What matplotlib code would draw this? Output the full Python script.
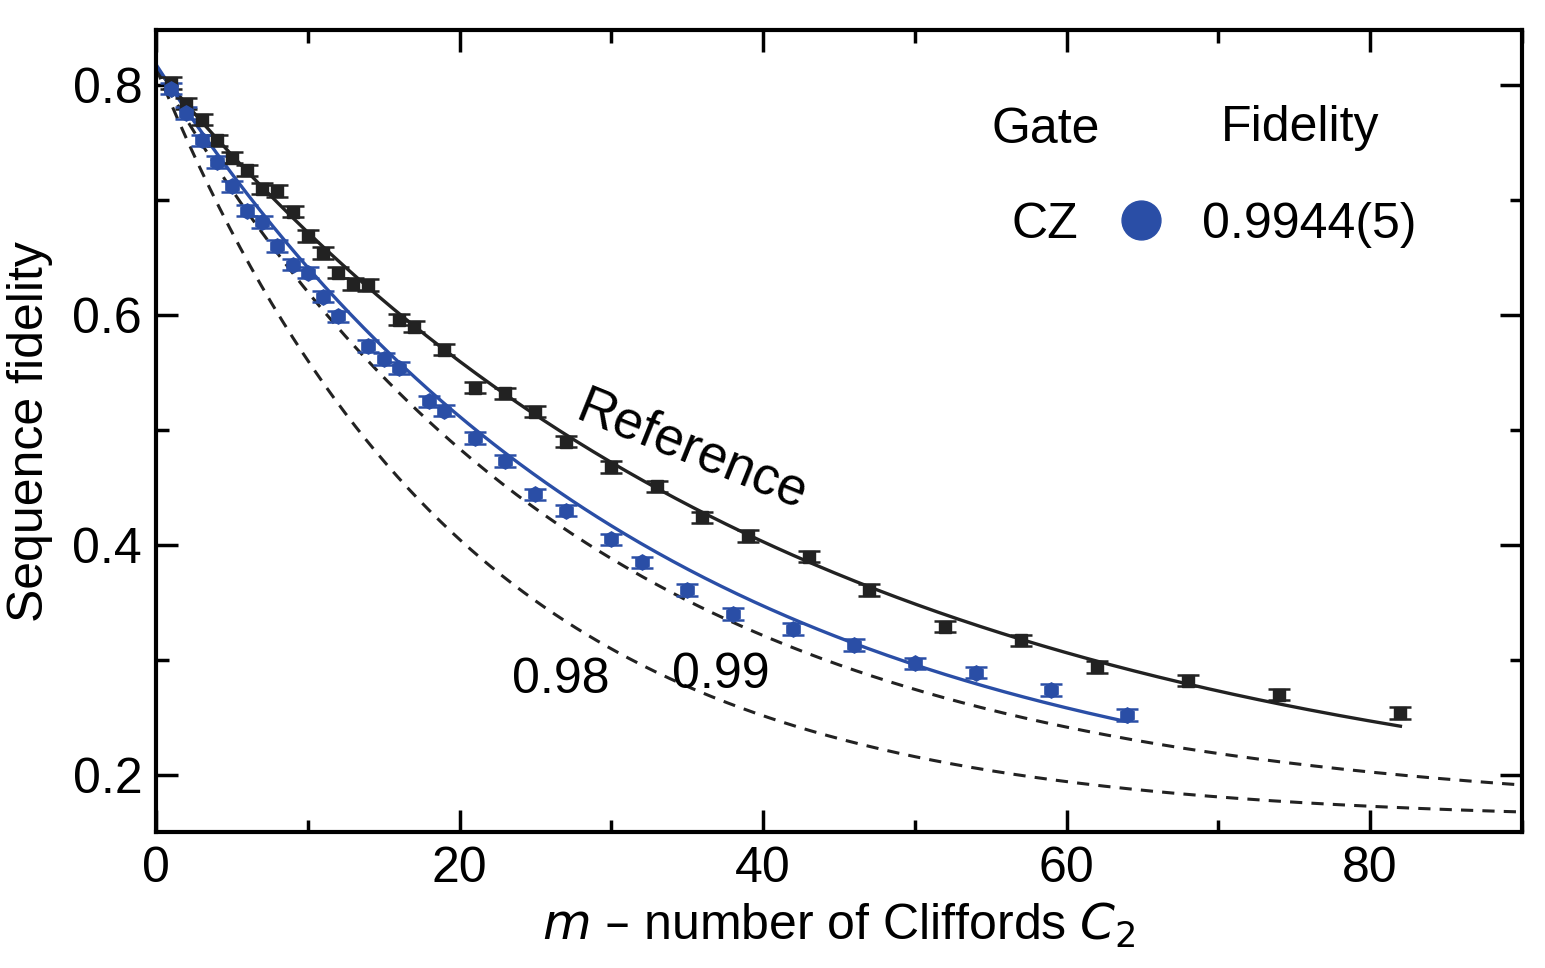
import numpy as np
import matplotlib
matplotlib.use('Agg')
import matplotlib.pyplot as plt

plt.rcParams['font.family'] = ['Liberation Sans', 'DejaVu Sans']

# Reference (black) data
ref_m = [1, 2, 3, 4, 5, 6, 7, 8, 9, 10, 11, 12, 13, 14, 16, 17, 19, 21, 23, 25, 27,
         30, 33, 36, 39, 43, 47, 52, 57, 62, 68, 74, 82]
ref_f = [0.802, 0.784, 0.770, 0.752, 0.737, 0.726, 0.710, 0.708, 0.690, 0.669, 0.654,
         0.637, 0.627, 0.626, 0.596, 0.590, 0.570, 0.537, 0.532, 0.516, 0.490, 0.468,
         0.451, 0.424, 0.408, 0.390, 0.361, 0.329, 0.317, 0.294, 0.282, 0.270, 0.254]
# Interleaved CZ (blue) data
cz_m = [1, 2, 3, 4, 5, 6, 7, 8, 9, 10, 11, 12, 14, 15, 16, 18, 19, 21, 23, 25, 27,
        30, 32, 35, 38, 42, 46, 50, 54, 59, 64]
cz_f = [0.797, 0.776, 0.752, 0.733, 0.712, 0.691, 0.681, 0.660, 0.644, 0.637, 0.616,
        0.599, 0.573, 0.562, 0.554, 0.525, 0.517, 0.493, 0.473, 0.444, 0.430, 0.405,
        0.385, 0.361, 0.340, 0.327, 0.313, 0.297, 0.289, 0.274, 0.252]
err = 0.005

# Fit model A*p^m + B parameters
ref_fit = dict(A=0.663, B=0.152, p=0.9760)
cz_fit = dict(A=0.663, B=0.155, p=0.9695)
dash_099 = dict(A=0.650, B=0.165, p=0.965)
dash_098 = dict(A=0.655, B=0.160, p=0.952)

blue = '#2a4ea6'

fig, ax = plt.subplots(figsize=(15.45, 9.68), dpi=100)
fig.subplots_adjust(left=0.101, right=0.985, top=0.969, bottom=0.14)

def model(prm, m):
    return prm['A'] * prm['p'] ** m + prm['B']

m_full = np.linspace(0, 92, 400)
for prm in (dash_099, dash_098):
    ax.plot(m_full, model(prm, m_full), '--', color='#222222', lw=2.2, dashes=(4, 3))
m_ref = np.linspace(0, 82, 300)
ax.plot(m_ref, model(ref_fit, m_ref), color='#222222', lw=2.4)
m_cz = np.linspace(0, 64, 300)
ax.plot(m_cz, model(cz_fit, m_cz), color=blue, lw=2.4)

ax.errorbar(ref_m, ref_f, yerr=err, fmt='s', color='#222222', ms=8, capsize=8,
            elinewidth=1.8, capthick=1.8)
ax.errorbar(cz_m, cz_f, yerr=err, fmt='h', color=blue, ms=11, capsize=8,
            elinewidth=1.8, capthick=1.8)

ax.set_xlim(0, 90)
ax.set_ylim(0.150, 0.848)
ax.set_xticks([0, 20, 40, 60, 80])
ax.set_xticks([10, 30, 50, 70, 90], minor=True)
ax.set_yticks([0.2, 0.4, 0.6, 0.8])
ax.set_yticks([0.3, 0.5, 0.7], minor=True)
ax.set_yticklabels(['0.2', '0.4', '0.6', '0.8'])
ax.tick_params(which='both', direction='in', top=True, right=True, width=2.5,
               labelsize=36, pad=10)
ax.tick_params(which='major', length=16)
ax.tick_params(which='minor', length=9)
for s in ax.spines.values():
    s.set_linewidth(3)

ax.set_xlabel(r'$m$ – number of Cliffords $C_2$', fontsize=36, labelpad=6)
ax.set_ylabel('Sequence fidelity', fontsize=36, labelpad=14)

ax.text(35.3, 0.482, 'Reference', fontsize=38, rotation=-22, ha='center', va='center')
ax.text(26.7, 0.283, '0.98', fontsize=36, ha='center', va='center')
ax.text(37.2, 0.287, '0.99', fontsize=36, ha='center', va='center')

ax.text(58.6, 0.761, 'Gate', fontsize=36, ha='center', va='center')
ax.text(75.4, 0.763, 'Fidelity', fontsize=36, ha='center', va='center')
ax.text(58.6, 0.678, 'CZ', fontsize=36, ha='center', va='center')
ax.plot([64.9], [0.683], 'o', color=blue, ms=28)
ax.text(76.0, 0.678, '0.9944(5)', fontsize=36, ha='center', va='center')

fig.savefig('out.png', dpi=100)
